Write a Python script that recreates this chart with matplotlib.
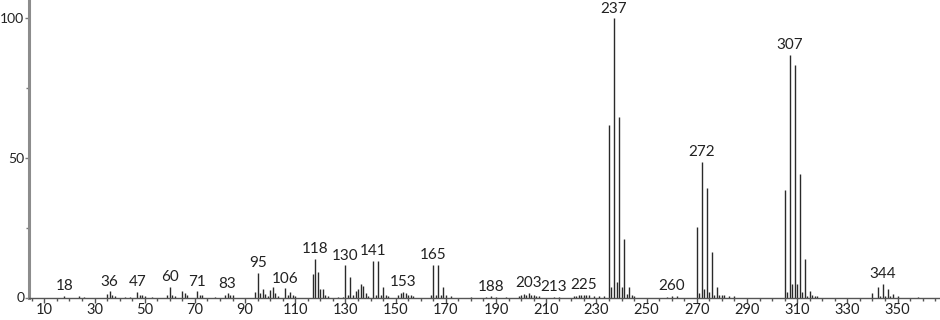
import numpy as np
import matplotlib
matplotlib.use("Agg")
import matplotlib.pyplot as plt
from matplotlib.ticker import MultipleLocator

# m/z values and relative intensities
mz = [18, 24, 26, 35, 36, 37, 38, 42, 44, 47, 48, 49, 50, 53,
      59, 60, 61, 62, 65, 66, 67, 71, 72, 73, 78, 82, 83, 84, 85,
      94, 95, 96, 97, 98, 99, 100, 101, 102, 103, 106, 107, 108, 109, 110,
      117, 118, 119, 120, 121, 122, 123, 127, 129,
      130, 131, 132, 133, 134, 135, 136, 137, 138, 139,
      141, 142, 143, 144, 145, 146, 147,
      151, 152, 153, 154, 155, 156, 157,
      164, 165, 166, 167, 168, 169, 170, 172,
      180, 186, 188, 190, 194,
      199, 200, 201, 202, 203, 204, 205, 206, 207, 213, 215,
      221, 222, 223, 224, 225, 226, 227, 229, 231, 233,
      235, 236, 237, 238, 239, 240, 241, 242, 243, 244, 245,
      258, 260, 262,
      270, 271, 272, 273, 274, 275, 276, 277, 278, 279, 280, 281, 283, 285,
      305, 306, 307, 308, 309, 310, 311, 312, 313, 314, 315, 316, 317, 318,
      340, 342, 343, 344, 345, 346, 347, 348, 350, 358]

intensity = [0.5, 0.5, 0.3, 1.2, 2.2, 1.0, 0.6, 0.3, 0.3, 2.0, 0.8, 0.9, 0.5, 0.3,
             0.8, 3.7, 1.0, 0.4, 2.2, 1.6, 0.8, 2.2, 1.0, 1.0, 0.3, 0.8, 1.5, 0.8, 0.8,
             1.8, 8.7, 1.6, 3.0, 1.2, 0.5, 2.8, 3.8, 1.5, 0.5, 3.3, 0.8, 2.0, 1.0, 0.7,
             8.5, 13.7, 9.3, 2.9, 2.9, 0.8, 0.5, 0.3, 0.3,
             11.5, 0.8, 7.5, 1.0, 2.4, 3.0, 4.8, 4.0, 1.5, 0.5,
             13.2, 0.8, 13.2, 0.8, 3.9, 0.8, 0.6,
             0.8, 1.5, 2.0, 1.6, 1.0, 0.8, 0.6,
             0.8, 11.8, 0.8, 11.8, 1.0, 3.9, 0.8, 0.5,
             0.3, 0.3, 0.4, 0.3, 0.3,
             0.5, 0.8, 1.2, 0.8, 1.6, 1.0, 0.8, 0.6, 0.5, 0.3, 0.3,
             0.6, 0.6, 0.8, 0.8, 1.0, 0.8, 0.8, 0.5, 0.6, 0.5,
             61.8, 3.6, 100, 5.7, 64.8, 3.6, 20.9, 1.3, 3.6, 0.8, 0.6,
             0.3, 0.6, 0.6,
             25.4, 1.5, 48.7, 2.9, 39.1, 2.1, 16.4, 0.8, 3.7, 0.8, 0.8, 0.8, 0.5, 0.5,
             38.5, 2.1, 86.9, 4.7, 83.3, 5.0, 44.3, 1.9, 13.7, 0.7, 2.4, 0.8, 0.6, 0.6,
             1.5, 3.9, 0.5, 4.8, 0.5, 2.9, 0.5, 1.3, 0.5, 0.3]

# peaks that carry a label
labeled = [18, 36, 47, 60, 71, 83, 95, 106, 118, 130, 141, 153, 165,
           188, 203, 213, 225, 237, 260, 272, 307, 344]


def main():
    fig = plt.figure(figsize=(9.4, 3.2), dpi=100)
    ax = fig.add_axes([29 / 940, 22.5 / 320, 911 / 940, 297.5 / 320])

    ax.vlines(mz, 0, intensity, color="#2a2a2a", linewidth=1.0)

    lookup = dict(zip(mz, intensity))
    for m in labeled:
        ax.annotate(str(m), (m, lookup[m]), xytext=(0, 2), textcoords="offset points",
                    ha="center", va="bottom", fontsize=11, color="#222222",
                    family="Lato")

    ax.set_xlim(3.9, 366.9)
    ax.set_ylim(0, 106.6)

    for side in ["top", "right"]:
        ax.spines[side].set_visible(False)
    ax.spines["left"].set_color("#8c8c8c")
    ax.spines["left"].set_linewidth(2.2)
    ax.spines["bottom"].set_color("#555555")
    ax.spines["bottom"].set_linewidth(1.0)

    ax.set_xticks(np.arange(10, 351, 20))
    ax.xaxis.set_minor_locator(MultipleLocator(5))
    ax.set_yticks([0, 50, 100])
    ax.set_yticks([25, 75], minor=True)

    ax.tick_params(axis="x", which="major", length=3.6, width=1, color="#555555",
                   labelsize=10.5, labelcolor="#222222", pad=0.5)
    ax.tick_params(axis="x", which="minor", length=2, width=1, color="#555555")
    ax.tick_params(axis="y", which="major", length=3.2, width=1, color="#777777",
                   labelsize=10, labelcolor="#222222", pad=0.3)
    ax.tick_params(axis="y", which="minor", length=2, width=1, color="#777777")
    for lab in ax.get_xticklabels() + ax.get_yticklabels():
        lab.set_family("Lato")

    fig.savefig("out.png", dpi=100)


if __name__ == '__main__':
    main()
